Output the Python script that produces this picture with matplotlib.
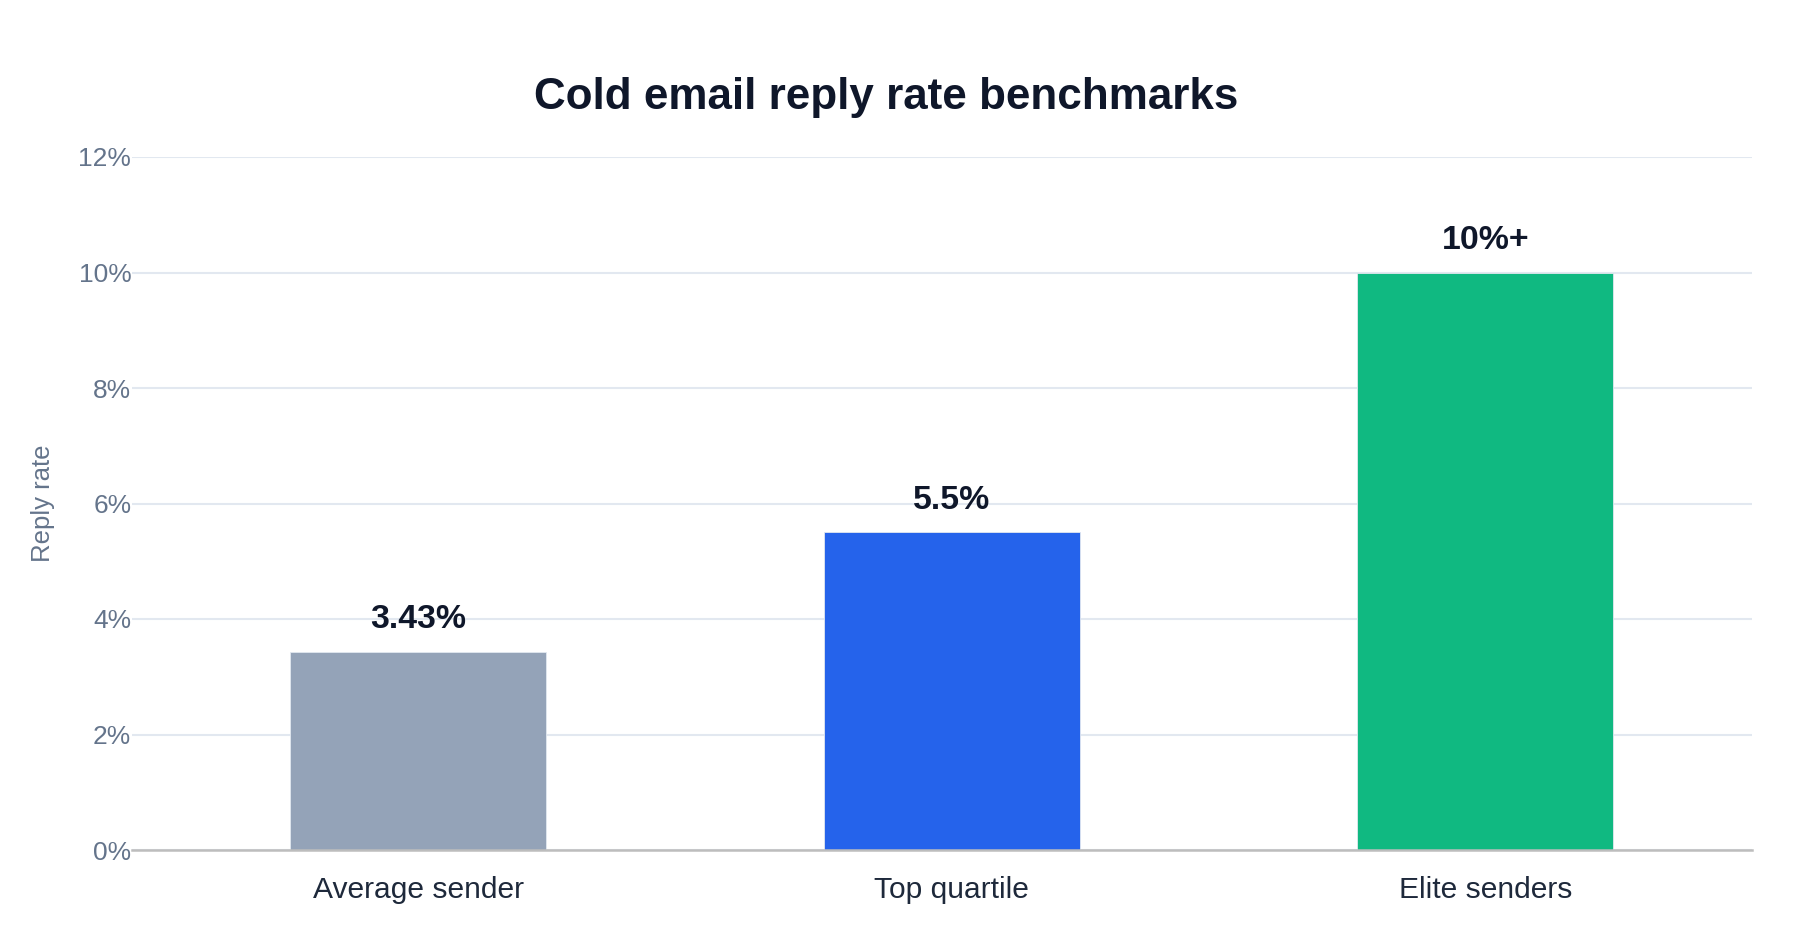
import matplotlib
matplotlib.use("Agg")
import matplotlib.pyplot as plt
from matplotlib.ticker import FuncFormatter, MultipleLocator

categories = ["Average sender", "Top quartile", "Elite senders"]
values = [3.43, 5.5, 10.0]
value_labels = ["3.43%", "5.5%", "10%+"]
bar_colors = ["#94a3b8", "#2563eb", "#10b981"]
title = "Cold email reply rate benchmarks"
y_label = "Reply rate"
y_max = 12
y_step = 2

plt.rcParams['font.family'] = ['Liberation Sans', 'DejaVu Sans']

fig = plt.figure(figsize=(18, 9.4), dpi=100)
ax = fig.add_axes([132/1800, 1-850/940, (1752-132)/1800, (850-157)/940])

x = list(range(len(categories)))
bars = ax.bar(x, values, width=0.48, color=bar_colors, zorder=2,
              edgecolor="#e2e8f0", linewidth=0.6)

for xi, v, lab in zip(x, values, value_labels):
    ax.annotate(lab, (xi, v), xytext=(0, 17), textcoords="offset points",
                ha="center", va="baseline", fontsize=24.4, fontweight="bold",
                color="#0f172a")

ax.set_xlim(-0.536, 2.5)
ax.set_ylim(0, y_max)
ax.yaxis.set_major_locator(MultipleLocator(y_step))
ax.yaxis.set_major_formatter(FuncFormatter(lambda v, p: f"{v:.0f}%"))
ax.set_xticks(x)
ax.set_xticklabels(categories)

ax.grid(axis="y", color="#e2e8f0", linewidth=1.5, zorder=0)
ax.set_axisbelow(True)
for s in ["top", "right", "left"]:
    ax.spines[s].set_visible(False)
ax.spines["bottom"].set_color("#bdbdbd")
ax.spines["bottom"].set_linewidth(1.8)
ax.spines["bottom"].set_zorder(3)

ax.tick_params(axis="y", length=0, pad=0.5, labelsize=19, labelcolor="#64748b")
ax.tick_params(axis="x", length=0, pad=18.5, labelsize=21.6, labelcolor="#1e293b")

fig.text(43/1800, 1-503/940, y_label, rotation=90, ha="center", va="center",
         fontsize=18.5, color="#64748b")
fig.text(886/1800, 1-109.5/940, title, ha="center", va="baseline",
         fontsize=31.7, fontweight="bold", color="#0f172a")

fig.savefig("out.png", dpi=100, facecolor="white")
